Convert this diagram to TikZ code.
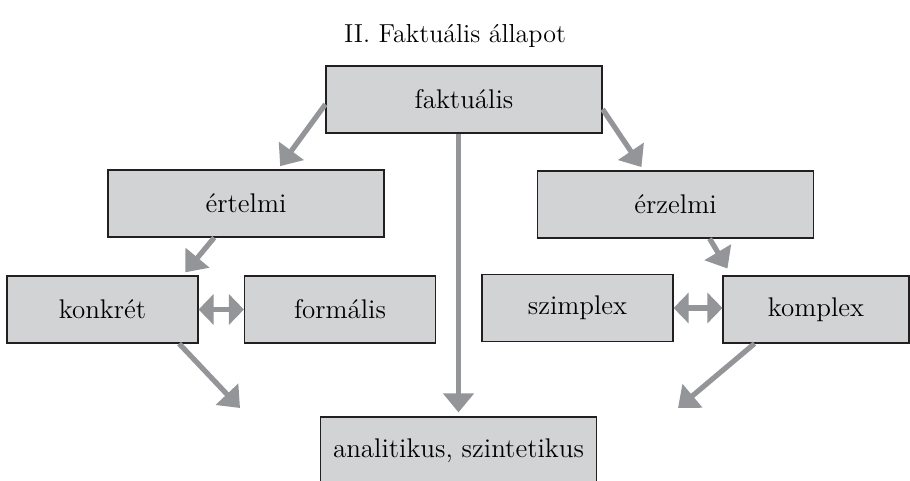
\documentclass[tikz,border=0pt]{standalone}
\usepackage{fontspec}
\usepackage{tikz}
\usetikzlibrary{arrows.meta,positioning,calc}
\definecolor{boxgray}{RGB}{210,211,213}
\definecolor{arrgray}{RGB}{148,149,153}
\definecolor{boxline}{RGB}{35,31,32}

\begin{document}
\begin{tikzpicture}[x=0.5pt,y=-0.5pt,
    bigbox/.style={draw=boxline,fill=boxgray,line width=0.6pt,minimum width=138pt,minimum height=33.5pt,inner sep=0pt,font=\fontsize{13.5}{16}\selectfont},
    smallbox/.style={bigbox,minimum width=95.5pt},
    arr/.style={draw=arrgray,line width=2.6pt,-{Triangle[length=9.5pt,width=15pt]}},
    darr/.style={draw=arrgray,line width=2.6pt,{Triangle[length=7.5pt,width=15pt]}-{Triangle[length=7.5pt,width=15pt]}}]

  \path[use as bounding box,clip] (0,0) rectangle (910,481);

  \node[font=\fontsize{13}{15}\selectfont] at (455,36) (title) {II. Faktuális állapot};

  % boxes
  \node[bigbox] at (464,99.5) (fakt) {faktuális};
  \node[bigbox] at (246,203.5) (ertelmi) {értelmi};
  \node[bigbox] at (675.5,204.5) (erzelmi) {érzelmi};

  \node[smallbox] at (102.5,309.5) (konkret) {konkrét};
  \node[smallbox] at (340,309.5) (formalis) {formális};
  \node[smallbox] at (577.5,308) (szimplex) {szimplex};
  \node[smallbox,minimum width=93pt] at (816,309.5) (komplex) {komplex};

  \node[bigbox] at (458.5,450.5) (anal) {analitikus, szintetikus};

  \coordinate (endl) at (240,408);
  \coordinate (endr) at (678,408);

  % arrows
  \draw[arr,shorten >=2pt] (fakt.182) -- (ertelmi.47);
  \draw[arr,shorten >=2pt] (fakt.356) -- (erzelmi.133);
  \draw[arr,shorten >=2pt] (fakt.south -| anal.north) -- (anal.north);

  \draw[arr,shorten >=2pt] (ertelmi.227) -- (konkret.23);
  \draw[arr,shorten >=4pt] (erzelmi.315) -- (komplex.158);

  \draw[darr] (konkret) -- (formalis);
  \draw[darr] (szimplex.east) -- (szimplex.east -| komplex.west);

  \draw[arr] (konkret.336) -- (endl);
  \draw[arr] (komplex.209) -- (endr);

\end{tikzpicture}
\end{document}
